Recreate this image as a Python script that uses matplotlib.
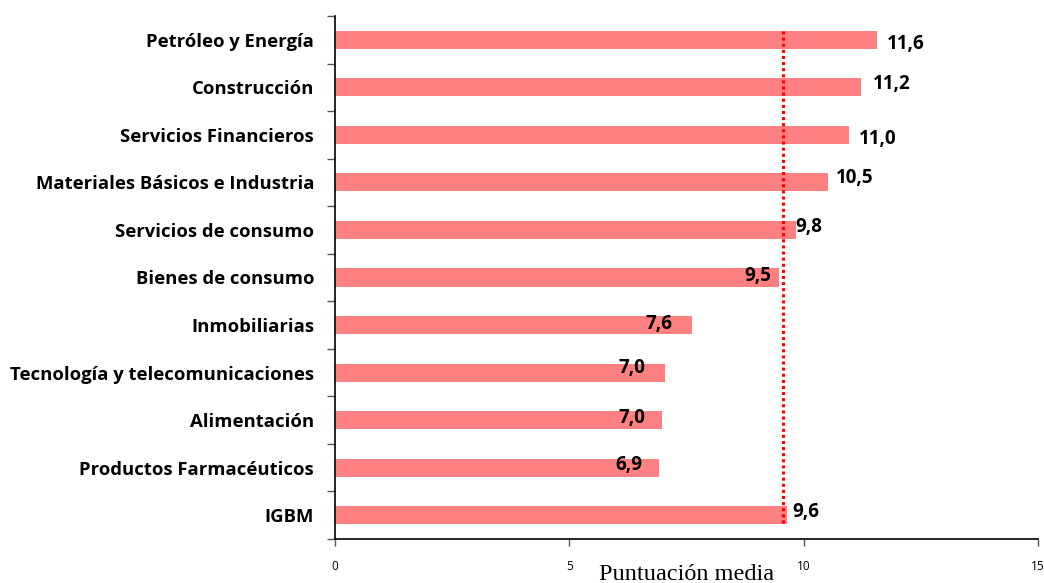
import matplotlib
matplotlib.use("Agg")
import matplotlib.pyplot as plt
import numpy as np

# sectors, top to bottom as in the original chart
sectores = ["Petróleo y Energía", "Construcción", "Servicios Financieros",
            "Materiales Básicos e Industria", "Servicios de consumo",
            "Bienes de consumo", "Inmobiliarias",
            "Tecnología y telecomunicaciones", "Alimentación",
            "Productos Farmacéuticos", "IGBM"]
puntuacion = [11.56, 11.22, 10.96, 10.51, 9.83, 9.47, 7.61, 7.04, 6.97, 6.92, 9.64]
etiquetas = ["11,6", "11,2", "11,0", "10,5", "9,8", "9,5", "7,6", "7,0", "7,0", "6,9", "9,6"]
media_ref = 9.55
xticks = [0, 5, 10, 15]

# label placement (pixels from bar end / bar centre, alignment)
label_offsets = [(10, -9, "left"), (12, -2, "left"), (10, -9, "left"), (8, -1, "left"),
                 (0, -2, "left"), (-7, -3, "right"), (-19, -4, "right"),
                 (-20, 0, "right"), (-16, -3, "right"), (-17, -2, "right"), (6, -2, "left")]

bar_color = "#FF8080"
bar_h = 0.38
sans = "Open Sans"

fig = plt.figure(figsize=(10.44, 5.83), dpi=100)
ax = fig.add_axes([335 / 1044, 1 - 539 / 583, (1038 - 335) / 1044, (539 - 16) / 583])

y = np.arange(len(sectores))
ax.barh(y, puntuacion, height=bar_h, color=bar_color, edgecolor="none", zorder=2)

# reference line: from top of first bar to bottom of last bar
ax.plot([media_ref, media_ref], [y[0] - bar_h / 2, y[-1] + bar_h / 2],
        color="red", linestyle=(0, (1, 1)), linewidth=2.2, zorder=3)

for i, (val, txt) in enumerate(zip(puntuacion, etiquetas)):
    dx, dy, ha = label_offsets[i]
    ax.annotate(txt, xy=(val, i), xytext=(dx, dy), textcoords="offset pixels",
                ha=ha, va="baseline", fontsize=13.5, fontweight="bold",
                family=sans, color="black", zorder=4)

ax.set_xlim(0, 15)
ax.set_ylim(len(sectores) - 0.5, -0.5)

ax.set_yticks(y)
ax.set_yticklabels(sectores, fontsize=13.3, fontweight="bold", family=sans)
ax.set_yticks(np.arange(len(sectores) + 1) - 0.5, minor=True)
ax.tick_params(axis="y", which="major", length=0, pad=15)
ax.tick_params(axis="y", which="minor", length=6, width=1, color="#555555")

ax.set_xticks(xticks)
ax.set_xticklabels([str(t) for t in xticks], fontsize=8.5, family=sans)
ax.tick_params(axis="x", length=5, width=1, color="#555555", pad=10)

ax.spines["top"].set_visible(False)
ax.spines["right"].set_visible(False)
ax.spines["left"].set_linewidth(1.2)
ax.spines["bottom"].set_linewidth(1.2)

ax.set_xlabel("Puntuación media", fontsize=17.5, family="Liberation Serif")
ax.xaxis.set_label_coords(0.5, -(580 - 539) / 523)
ax.xaxis.label.set_va("baseline")

fig.savefig("out.png", dpi=100)
